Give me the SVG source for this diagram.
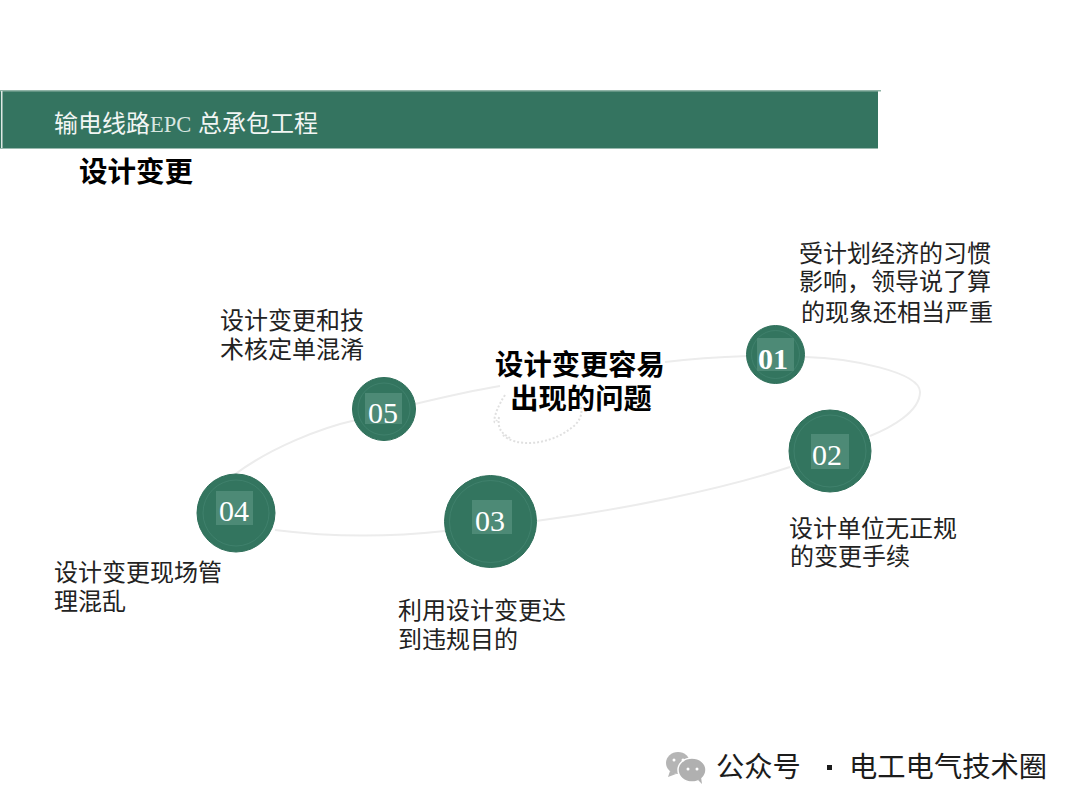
<svg xmlns="http://www.w3.org/2000/svg" width="1080" height="810" viewBox="0 0 1080 810">
<style>
.t{font-family:"Liberation Sans","Noto Sans CJK SC",sans-serif;font-size:24px;fill:#222}
.b{font-family:"Liberation Sans","Noto Sans CJK SC",sans-serif;font-weight:700;fill:#000}
.c{fill:#33755f;stroke:#2f6f5a;stroke-width:1}
.r{fill:none;stroke:#458571;stroke-width:.7}
.s{fill:#4d8a76}
.n{font-family:"Liberation Serif",serif;font-size:30px;fill:#fff;text-anchor:middle}
.o{fill:none;stroke:#ececec;stroke-width:2}
.d{fill:none;stroke:#e0e0e0;stroke-width:2;stroke-dasharray:2 2}
.w{font-family:"Liberation Sans","Noto Sans CJK SC",sans-serif;font-size:28.300px;fill:#1c1c1c}
</style>
<rect width="1080" height="810" fill="#fff"/>
<g id="header">
<rect x="0" y="90" width="878" height="58.500" fill="#347460"/>
<rect x="0" y="90" width="881" height="1.500" fill="#8fb3a6"/>
<rect x="1" y="91" width="1.500" height="57" fill="#dfe9e5"/>
<text x="54" y="132" style="font-family:'Liberation Sans','Noto Sans CJK SC',sans-serif;font-size:24px;fill:#f2f6f4">输电线路<tspan style="font-family:'Liberation Serif',serif;font-size:22.500px;fill:#d8e6e0">EPC</tspan> 总承包工程</text>
</g>
<text id="title" class="b" x="79" y="182" font-size="28.500">设计变更</text>
<g id="connectors">
<path class="o" d="M234 475C270 448 320 428 356 420"/>
<path class="o" d="M415 404C440 398 470 391 500 386"/>
<path class="o" d="M665 362C690 359 720 357 748 356"/>
<path class="o" d="M805 357C850 358 920 372 920 392C920 412 890 428 870 436"/>
<path class="o" d="M790 467C720 490 620 510 536 521"/>
<path class="o" d="M445 531C390 537 330 537 275 530"/>
</g>
<g id="seal">
<path class="d" d="M505 395C492 415 493 428 497 420"/>
<path class="d" d="M503 435C515 447 550 447 575 425C583 417 583 408 578 402"/>
<path class="d" d="M499 417C497 430 503 434 510 438"/>
</g>
<g id="center-label" class="b" font-size="28.300" text-anchor="middle">
<text x="580" y="375">设计变更容易</text>
<text x="581" y="409">出现的问题</text>
</g>
<g id="node-01">
<circle class="c" cx="775.500" cy="354.500" r="29"/>
<circle class="r" cx="775.500" cy="354.500" r="24"/>
<rect class="s" x="757" y="338" width="37" height="33"/>
<text class="n" x="773" y="369" font-weight="700">01</text>
</g>
<g id="node-02">
<circle class="c" cx="830" cy="451" r="41"/>
<circle class="r" cx="830" cy="451" r="36"/>
<rect class="s" x="811" y="434" width="38" height="35"/>
<text class="n" x="827" y="465">02</text>
</g>
<g id="node-03">
<circle class="c" cx="490.500" cy="521.500" r="46"/>
<circle class="r" cx="490.500" cy="521.500" r="41"/>
<rect class="s" x="472" y="500" width="40" height="34"/>
<text class="n" x="490" y="531">03</text>
</g>
<g id="node-04">
<circle class="c" cx="236" cy="513" r="39"/>
<circle class="r" cx="236" cy="513" r="33"/>
<rect class="s" x="216" y="491" width="37" height="34"/>
<text class="n" x="234" y="521">04</text>
</g>
<g id="node-05">
<circle class="c" cx="384" cy="409" r="31.500"/>
<circle class="r" cx="384" cy="409" r="26"/>
<rect class="s" x="365" y="393" width="37" height="31"/>
<text class="n" x="383" y="423">05</text>
</g>
<g id="label-01" class="t">
<text x="799" y="262">受计划经济的习惯</text>
<text x="799" y="290">影响，领导说了算</text>
<text x="801" y="321">的现象还相当严重</text>
</g>
<g id="label-02" class="t">
<text x="789" y="537">设计单位无正规</text>
<text x="790" y="565">的变更手续</text>
</g>
<g id="label-03" class="t">
<text x="398" y="619">利用设计变更达</text>
<text x="398" y="648">到违规目的</text>
</g>
<g id="label-04" class="t">
<text x="54" y="581">设计变更现场管</text>
<text x="54" y="610">理混乱</text>
</g>
<g id="label-05" class="t">
<text x="220" y="329">设计变更和技</text>
<text x="220" y="358">术核定单混淆</text>
</g>
<g id="watermark">
<ellipse cx="678" cy="763" rx="12" ry="11" fill="#b5b5b5"/>
<path d="M670 771l-2 6 8-3z" fill="#b5b5b5"/>
<ellipse cx="692" cy="770" rx="14" ry="12" fill="#b0b0b0" stroke="#fff" stroke-width="1.500"/>
<path d="M698 780l4 4-1-7z" fill="#b0b0b0"/>
<circle cx="674" cy="760" r="1.500" fill="#fff"/><circle cx="683" cy="760" r="1.500" fill="#fff"/>
<circle cx="688" cy="769" r="1.500" fill="#fff"/><circle cx="697" cy="769" r="1.500" fill="#fff"/>
<text class="w" x="716" y="777">公众号</text>
<rect x="827" y="765" width="5" height="5" fill="#1c1c1c"/>
<text class="w" x="849" y="777">电工电气技术圈</text>
</g>
</svg>
